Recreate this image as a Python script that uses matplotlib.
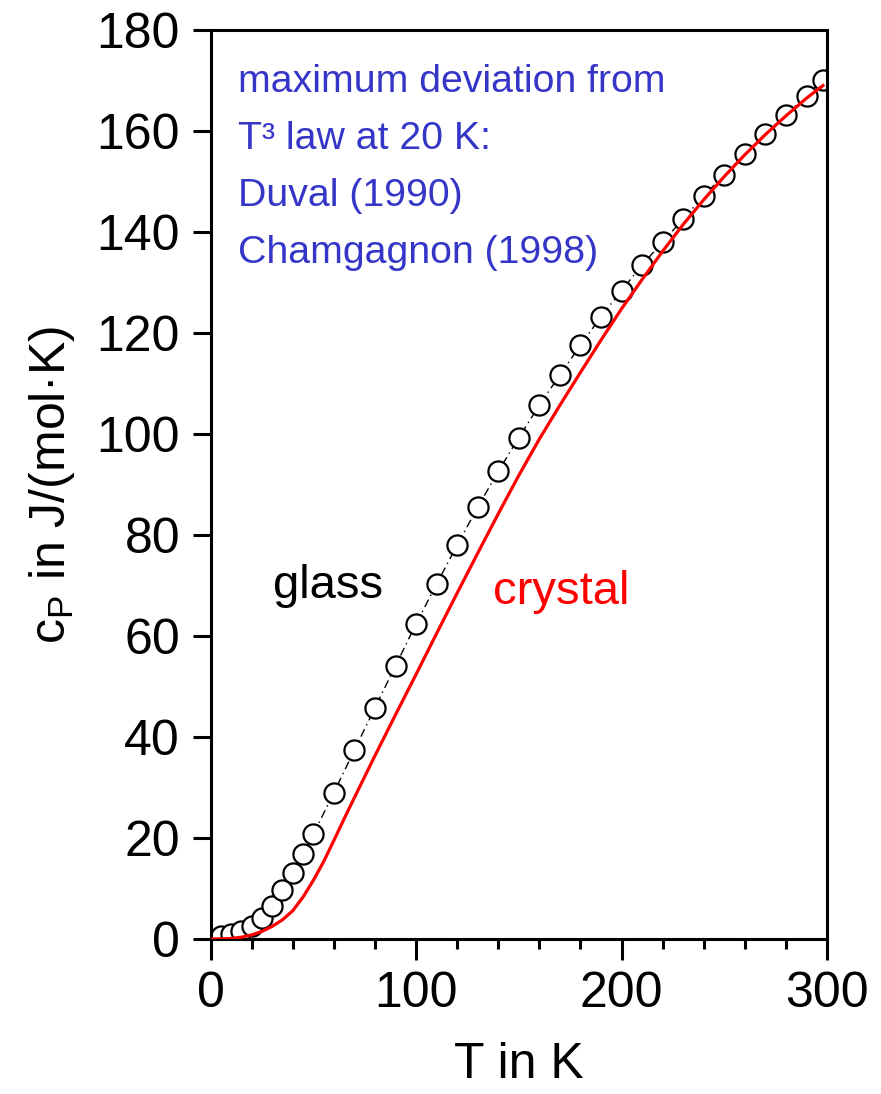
import matplotlib
matplotlib.use("Agg")
import matplotlib.pyplot as plt
from matplotlib.ticker import MultipleLocator

plt.rcParams['font.family'] = ['Liberation Sans', 'DejaVu Sans']
plt.rcParams['mathtext.fontset'] = 'custom'
plt.rcParams['mathtext.rm'] = 'Liberation Sans'
plt.rcParams['mathtext.it'] = 'Liberation Sans:italic'

# Glass: measured heat capacity (circles)
T_glass = [5, 10, 15, 20, 25, 30, 35, 40, 45, 50, 60, 70, 80, 90, 100, 110, 120,
           130, 140, 150, 160, 170, 180, 190, 200, 210, 220, 230, 240, 250, 260,
           270, 280, 290, 298]
cp_glass = [0.6, 0.9, 1.6, 2.6, 4.2, 6.6, 9.6, 13.0, 16.8, 20.7, 29.0, 37.4, 45.8,
            54.1, 62.4, 70.3, 78.0, 85.5, 92.6, 99.3, 105.7, 111.7, 117.6, 123.2,
            128.4, 133.5, 138.0, 142.6, 147.2, 151.3, 155.4, 159.4, 163.2, 167.0, 170.1]

# Crystal: heat capacity curve (red line)
T_cryst = [0, 5, 10, 15, 20, 25, 30, 35, 40, 45, 50, 55, 60, 65, 70, 80, 90, 100,
           110, 120, 130, 140, 150, 160, 170, 180, 190, 200, 210, 220, 230, 240,
           250, 260, 270, 280, 290, 298]
cp_cryst = [0.0, 0.03, 0.1, 0.35, 0.8, 1.5, 2.5, 3.8, 5.6, 8.3, 11.6, 15.3, 19.5,
            23.8, 28.0, 36.3, 44.4, 52.4, 60.5, 68.5, 76.4, 84.2, 91.8, 99.0,
            105.7, 112.2, 118.6, 124.8, 130.6, 136.2, 141.5, 146.4, 151.0, 155.3,
            159.3, 163.0, 166.5, 169.0]

fig = plt.figure(figsize=(8.81, 10.94), dpi=100)
ax = fig.add_axes([0.239, 0.1417, 0.6998, 0.8309])

ax.plot(T_glass, cp_glass, color='black', lw=1.0, linestyle=(0, (6, 3, 1, 3)),
        marker='o', markersize=14.5, markerfacecolor='white',
        markeredgecolor='black', markeredgewidth=1.6, zorder=2)
ax.plot(T_cryst, cp_cryst, color='#ff0000', lw=2.3, zorder=3)

ax.set_xlim(0, 300)
ax.set_ylim(0, 180)
ax.xaxis.set_major_locator(MultipleLocator(100))
ax.xaxis.set_minor_locator(MultipleLocator(20))
ax.yaxis.set_major_locator(MultipleLocator(20))

for s in ax.spines.values():
    s.set_linewidth(2.2)

ax.tick_params(which='both', direction='out', width=2.2, top=False, right=False)
ax.tick_params(axis='x', which='major', length=15, pad=8, labelsize=36)
ax.tick_params(axis='x', which='minor', length=7.5)
ax.tick_params(axis='y', which='major', length=13, pad=9, labelsize=36)

ax.set_xlabel('T in K', fontsize=36, labelpad=18)
ax.set_ylabel(r'c$_\mathrm{P}$ in J/(mol·K)', fontsize=36, labelpad=14)

blue = '#3535c8'
note_lines = ['maximum deviation from', 'T³ law at 20 K:', 'Duval (1990)',
              'Chamgagnon (1998)']
note_y = [0.9318, 0.869, 0.8064, 0.7437]
for line, y in zip(note_lines, note_y):
    ax.text(0.044, y, line, transform=ax.transAxes, color=blue, fontsize=28.3,
            va='baseline', ha='left')

ax.text(0.102, 0.375, 'glass', transform=ax.transAxes, color='black',
        fontsize=34, va='baseline', ha='left')
ax.text(0.458, 0.368, 'crystal', transform=ax.transAxes, color='#ff0000',
        fontsize=34, va='baseline', ha='left')

fig.savefig('out.png', dpi=100)
